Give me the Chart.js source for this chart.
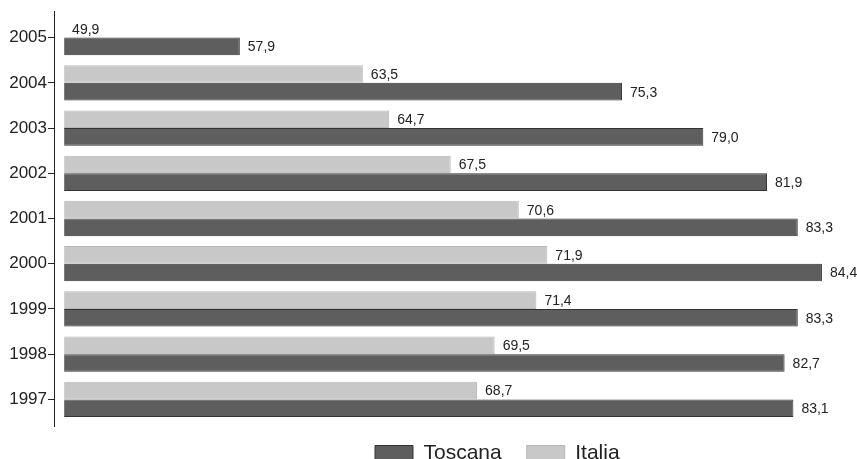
<!DOCTYPE html>
<html>
<head>
<meta charset="utf-8">
<script src="https://cdn.jsdelivr.net/npm/chart.js@4/dist/chart.umd.min.js"></script>
<style>
  html, body { margin: 0; padding: 0; background: #fff; }
  #wrap { width: 857px; height: 459px; }
</style>
</head>
<body>
<div id="wrap"><canvas id="chart"></canvas></div>
<script>
// years, top to bottom
const years = ['2005', '2004', '2003', '2002', '2001', '2000', '1999', '1998', '1997'];
const italia = [49.9, 63.5, 64.7, 67.5, 70.6, 71.9, 71.4, 69.5, 68.7];
const toscana = [57.9, 75.3, 79.0, 81.9, 83.3, 84.4, 83.3, 82.7, 83.1];
const barBase = 49.9;

const FONT = "'Liberation Sans', Arial, sans-serif";

// value labels at the end of each bar, comma decimal
const valueLabels = {
    id: 'valueLabels',
    afterDatasetsDraw: function(chart) {
        const ctx = chart.ctx;
        ctx.save();
        ctx.font = '14px ' + FONT;
        ctx.fillStyle = '#222';
        ctx.textAlign = 'left';
        ctx.textBaseline = 'middle';
        chart.data.datasets.forEach(function(ds, i) {
            chart.getDatasetMeta(i).data.forEach(function(bar, j) {
                const txt = ds.data[j].toFixed(1).replace('.', ',');
                ctx.fillText(txt, bar.x + 8, bar.y + 1);
            });
        });
        ctx.restore();
    }
};

// vertical axis line, a bit longer than the plot area
const axisLine = {
    id: 'axisLine',
    afterDraw: function(chart) {
        const a = chart.chartArea;
        const ctx = chart.ctx;
        ctx.save();
        ctx.strokeStyle = '#222';
        ctx.lineWidth = 1;
        ctx.beginPath();
        ctx.moveTo(a.left + 0.5, a.top - 4);
        ctx.lineTo(a.left + 0.5, a.bottom + 5);
        ctx.stroke();
        ctx.restore();
    }
};

// the legend sits right of centre and low in the original
const legendShift = {
    id: 'legendShift',
    afterLayout: function(chart) {
        const lg = chart.legend;
        if (!lg || !lg.lineWidths) return;
        const pad = lg.options.labels.padding;
        const start = (lg.left + pad + lg.right - lg.lineWidths[0]) / 2;
        const dx = 375 - start;
        lg.left += dx;
        lg.right += dx;
        const dy = 445 - pad - 2 - lg.top;
        lg.top += dy;
        lg.bottom += dy;
    }
};

new Chart(document.getElementById('chart'), {
    type: 'bar',
    data: {
        labels: years,
        datasets: [{
            label: 'Italia',
            data: italia,
            base: barBase,
            backgroundColor: '#c8c8c8',
            borderColor: '#b8b8b8',
            borderWidth: 1,
            categoryPercentage: 0.78,
            barPercentage: 1.0
        }, {
            label: 'Toscana',
            data: toscana,
            base: barBase,
            backgroundColor: '#5e5e5e',
            borderColor: '#333333',
            borderWidth: 1,
            categoryPercentage: 0.78,
            barPercentage: 1.0
        }]
    },
    options: {
        indexAxis: 'y',
        responsive: true,
        maintainAspectRatio: false,
        animation: false,
        layout: {
            padding: { top: 15, right: 12, bottom: -19, left: 0 }
        },
        scales: {
            x: {
                display: false,
                min: 49.44,
                max: 85.45
            },
            y: {
                grid: {
                    offset: false,
                    drawOnChartArea: false,
                    drawTicks: true,
                    tickLength: 6,
                    color: '#222'
                },
                border: { display: false },
                ticks: {
                    padding: 1,
                    color: '#222',
                    font: { family: FONT, size: 17 }
                },
                afterFit: function(scale) { scale.width = 54; }
            }
        },
        plugins: {
            legend: {
                position: 'bottom',
                reverse: true,
                labels: {
                    boxWidth: 38,
                    boxHeight: 16,
                    padding: 25,
                    color: '#222',
                    font: { family: FONT, size: 21 }
                }
            },
            tooltip: { enabled: false }
        }
    },
    plugins: [valueLabels, axisLine, legendShift]
});
</script>
</body>
</html>
